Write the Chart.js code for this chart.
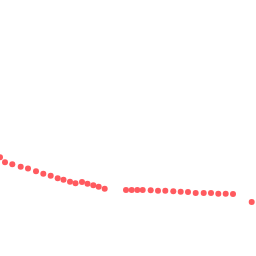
<!DOCTYPE html>
<html>
<head>
<meta charset="utf-8">
<script src="https://cdn.jsdelivr.net/npm/chart.js@4/dist/chart.umd.min.js"></script>
<style>html,body{margin:0;padding:0;background:#fff;}#c{display:block;}</style>
</head>
<body>
<canvas id="c" width="256" height="256"></canvas>
<script>
const xValues = [0, 5, 12.3, 20.7, 28, 36, 43.3, 50.7, 57.7, 63.5, 70, 75.5, 82, 87.5, 93.3, 98.7, 104.7,
  126, 131.7, 137.3, 142.7, 150.7, 158, 165.3, 173.3, 180.7, 188, 195.7, 203.7, 211, 218.3, 225.7, 233, 251.7];
const yValues = [98.7, 93.7, 91.7, 89.3, 87.5, 84.7, 82.3, 80.3, 77.7, 76.3, 74.3, 72.7, 74, 72.3, 70.7, 69.3, 67.3,
  66, 66, 66, 66, 65.7, 65.3, 65.3, 64.7, 64.3, 64, 63, 63, 63, 62.3, 62.3, 62, 54];
const xRange = [0, 256];
const yRange = [0, 256];

const points = xValues.map((x, i) => ({ x: x, y: yValues[i] }));

new Chart(document.getElementById('c'), {
  type: 'scatter',
  data: {
    datasets: [{
      data: points,
      backgroundColor: '#ff5a5f',
      borderWidth: 0,
      pointRadius: 3,
      pointHoverRadius: 3
    }]
  },
  options: {
    responsive: false,
    animation: false,
    layout: { padding: 0, autoPadding: false },
    plugins: { legend: { display: false }, tooltip: { enabled: false } },
    scales: {
      x: { type: 'linear', display: false, min: xRange[0], max: xRange[1] },
      y: { type: 'linear', display: false, min: yRange[0], max: yRange[1] }
    }
  }
});
</script>
</body>
</html>
